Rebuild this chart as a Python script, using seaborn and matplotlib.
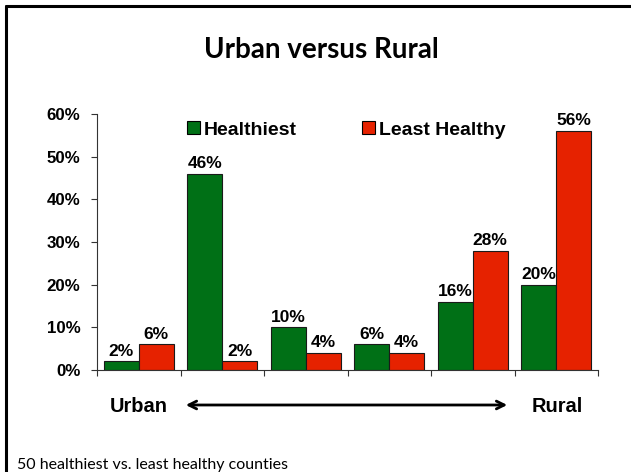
import numpy as np
import pandas as pd
import matplotlib
matplotlib.use('Agg')
import matplotlib.pyplot as plt
import seaborn as sns
from matplotlib.patches import Patch, FancyArrowPatch

groups = ['1', '2', '3', '4', '5', '6']
healthiest = [2, 46, 10, 6, 16, 20]
least_healthy = [6, 2, 4, 4, 28, 56]
series_names = ['Healthiest', 'Least Healthy']
y_ticks = [0, 10, 20, 30, 40, 50, 60]
GREEN = '#007016'
RED = '#E62200'

sns.set_style('white')
plt.rcParams['font.family'] = ['Liberation Sans', 'DejaVu Sans']
plt.rcParams['text.color'] = 'black'
plt.rcParams['xtick.color'] = 'black'
plt.rcParams['ytick.color'] = 'black'

df = pd.DataFrame({
    'group': groups * 2,
    'series': [series_names[0]] * len(groups) + [series_names[1]] * len(groups),
    'value': healthiest + least_healthy,
})

W, H = 631, 472
fig = plt.figure(figsize=(W / 100, H / 100), dpi=100)
ax = fig.add_axes([97 / W, 1 - 370 / H, (598 - 97) / W, (370 - 114) / H])
sns.barplot(data=df, x='group', y='value', hue='series', order=groups,
            hue_order=series_names, palette=[GREEN, RED], width=0.84,
            edgecolor='#1a1a1a', linewidth=0.8, saturation=1, ax=ax, legend=False)

# value labels on top of each bar
for cont in ax.containers:
    ax.bar_label(cont, fmt='%d%%', padding=2, fontsize=12.5, fontweight='bold')

ax.set_xlim(-0.5, len(groups) - 0.5)
ax.set_ylim(0, 60)
ax.set_yticks(y_ticks)
ax.set_yticklabels([f'{t}%' for t in y_ticks], fontsize=12.2, fontweight='bold')
ax.set_xticks(np.arange(-0.5, len(groups)))
ax.set_xticklabels([])
ax.tick_params(axis='both', length=4, width=0.8, color='#333333', direction='out',
               left=True, bottom=True, pad=8)
ax.set_xlabel('')
ax.set_ylabel('')
sns.despine(ax=ax, top=True, right=True)
for sp in ['left', 'bottom']:
    ax.spines[sp].set_color('#333333')
    ax.spines[sp].set_linewidth(0.8)

handles = [Patch(facecolor=GREEN, edgecolor='black', linewidth=0.8),
           Patch(facecolor=RED, edgecolor='black', linewidth=0.8)]
fig.legend(handles, series_names, loc='center left', bbox_to_anchor=(173 / W, 1 - 130 / H),
           ncol=2, frameon=False, handlelength=0.67, handleheight=0.6, handletextpad=0.2,
           columnspacing=3.35, borderpad=0.2, prop={'weight': 'bold', 'size': 14})

fig.text(321 / W, 1 - 58 / H, 'Urban versus Rural', ha='center', va='baseline',
         fontsize=20, fontweight='bold', family=['Lato', 'DejaVu Sans'])
fig.text(110 / W, 1 - 412 / H, 'Urban', ha='left', va='baseline', fontsize=14.4,
         fontweight='bold')
fig.text(532 / W, 1 - 412 / H, 'Rural', ha='left', va='baseline', fontsize=14.4,
         fontweight='bold')
fig.add_artist(FancyArrowPatch(
    (183 / W, 1 - 405 / H), (510 / W, 1 - 405 / H), transform=fig.transFigure,
    arrowstyle='<->', mutation_scale=14, linewidth=2, color='black'))
fig.text(17 / W, 1 - 469 / H, '50 healthiest vs. least healthy counties', ha='left',
         va='baseline', fontsize=11.5, family=['Lato', 'DejaVu Sans'])

# slide frame (left and top edges)
fig.add_artist(plt.Line2D([6 / W, 6 / W], [0, 1 - 6 / H], transform=fig.transFigure,
                          color='black', linewidth=2.2))
fig.add_artist(plt.Line2D([6 / W, 1], [1 - 6 / H, 1 - 6 / H], transform=fig.transFigure,
                          color='black', linewidth=2.2))

fig.savefig('out.png', dpi=100)
